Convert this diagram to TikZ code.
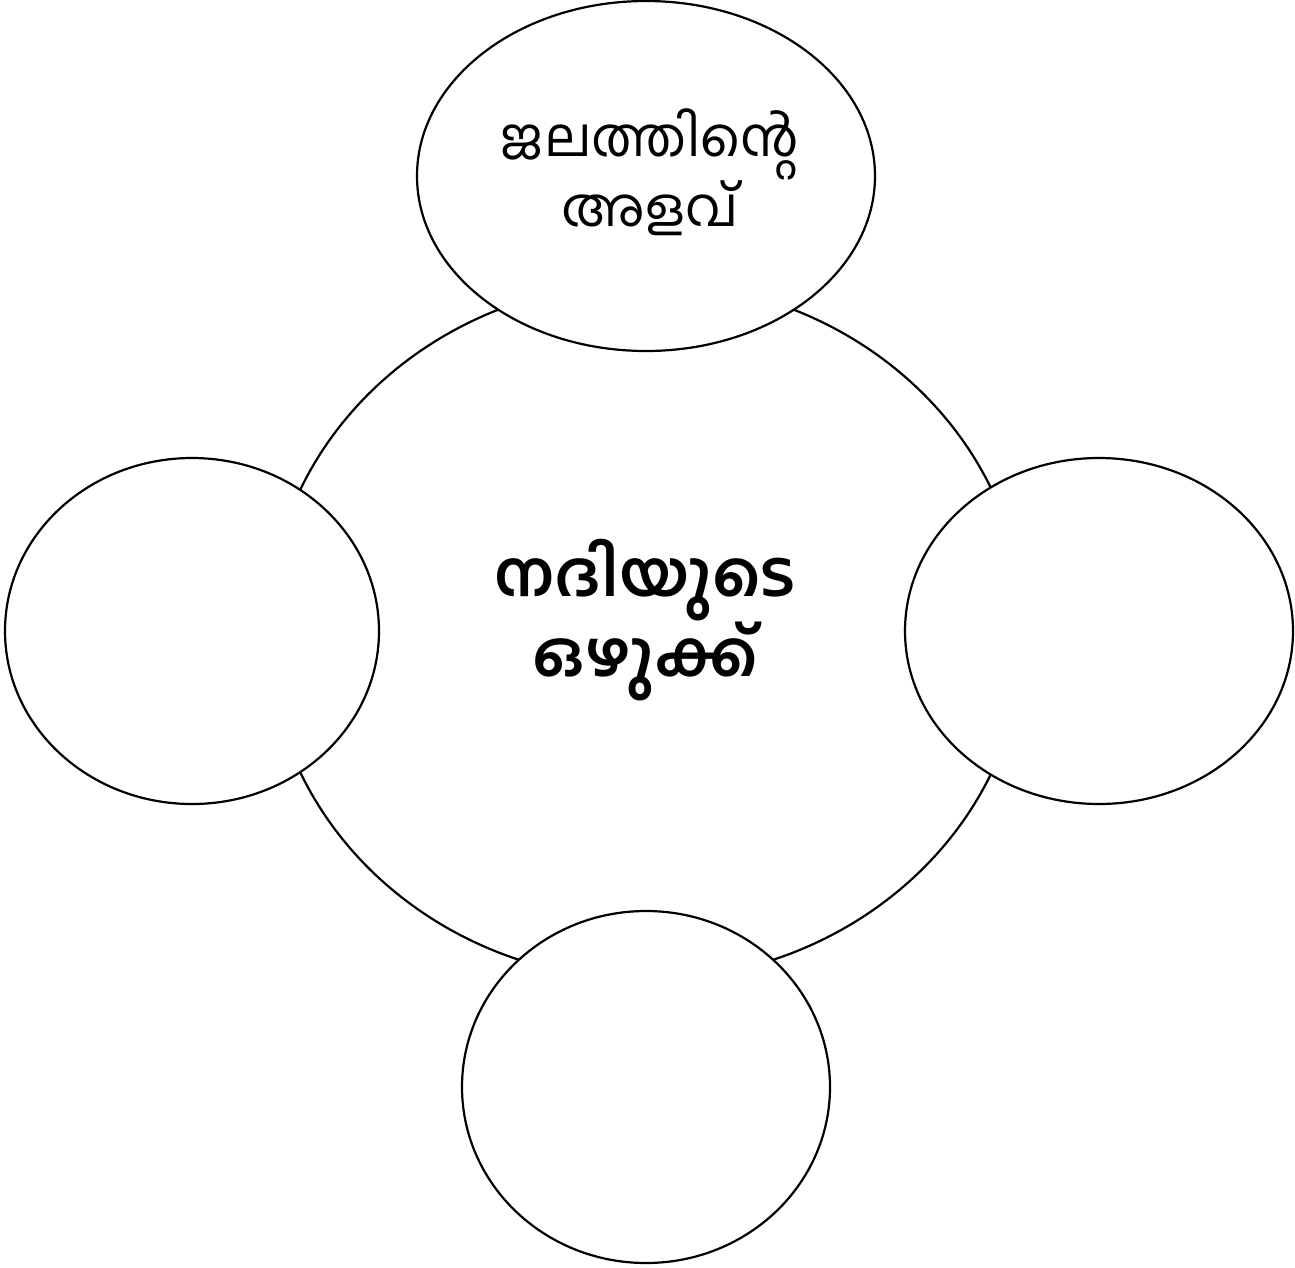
\documentclass[tikz,border=0pt]{standalone}
\usepackage{fontspec}
\newfontfamily\malfont[Script=Malayalam]{Hind Kochi}
\newfontfamily\malbold[Script=Malayalam,UprightFont=* SemiBold]{Hind Kochi}
\begin{document}
\begin{tikzpicture}[x=1pt,y=-1pt,
  bubble/.style={draw=black,line width=2.2pt,fill=white}]
\useasboundingbox (0,0) rectangle (1295,1267);
\draw[bubble] (646,631) ellipse [x radius=378,y radius=349];
\node (centre) at (646,631) {};
\draw[bubble] (646,176) ellipse [x radius=229,y radius=175];
\node (top) at (646,176) {};
\draw[bubble] (192,631) ellipse [x radius=187,y radius=173];
\node (left) at (192,631) {};
\draw[bubble] (1099,631) ellipse [x radius=194,y radius=173];
\node (right) at (1099,631) {};
\draw[bubble] (646,1087) ellipse [x radius=184,y radius=176];
\node (bottom) at (646,1087) {};
\node[align=center,font=\malfont\fontsize{54}{62}\selectfont] (toptext) at (650,172) {ജലത്തിന്റെ\\അളവ്};
\node[align=center,font=\malbold\fontsize{63}{74}\selectfont] (centretext) at (645,620) {നദിയുടെ\\ഒഴുക്ക്};
\end{tikzpicture}
\end{document}
